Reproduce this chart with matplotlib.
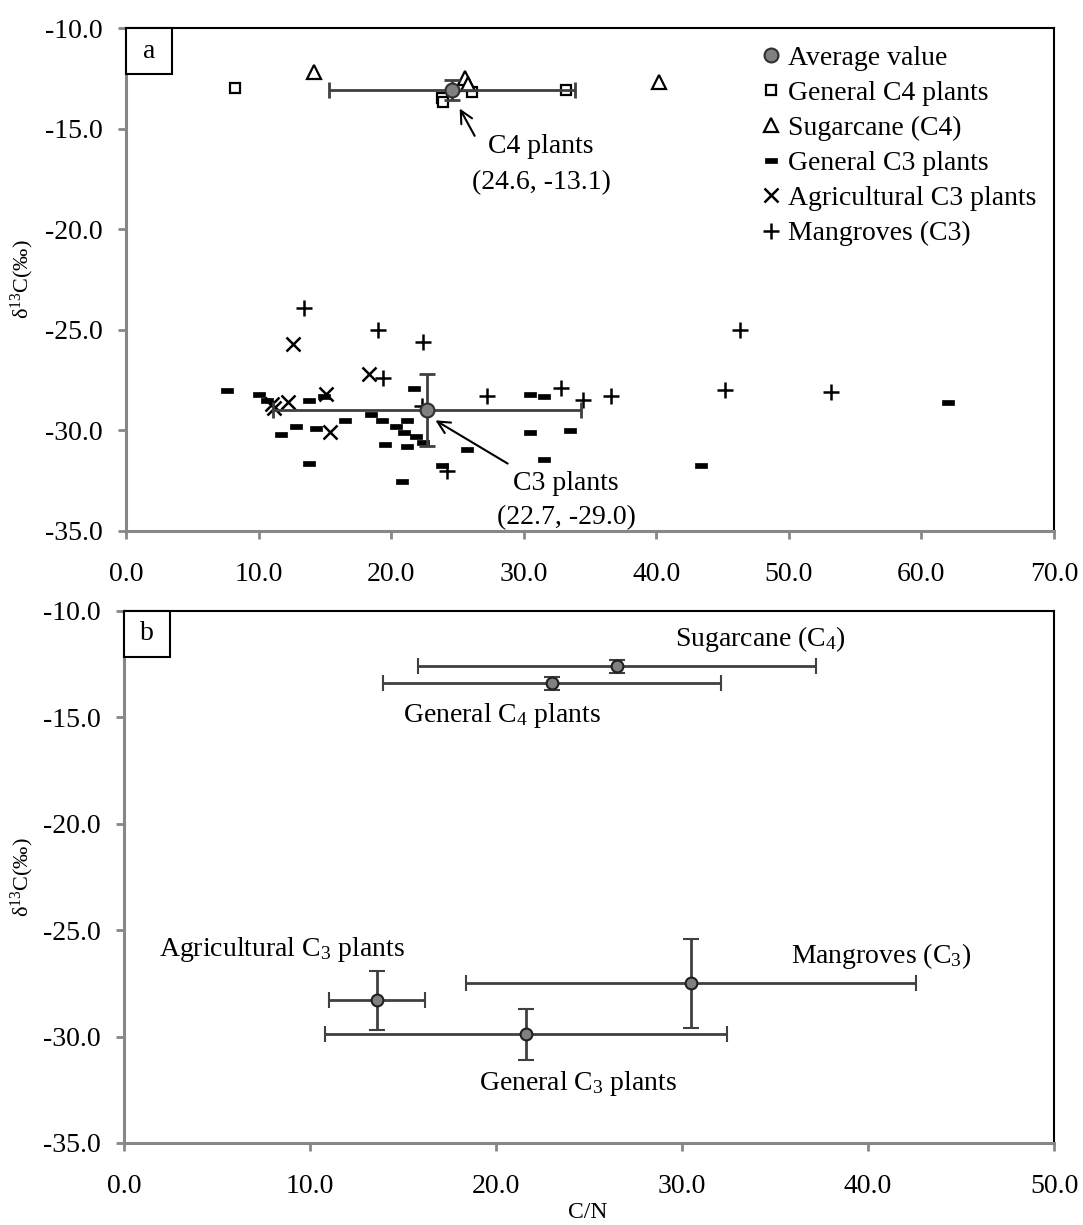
import numpy as np
import matplotlib.pyplot as plt
from matplotlib.patches import Rectangle

plt.rcParams['font.family'] = ['Liberation Serif', 'DejaVu Serif']
plt.rcParams['mathtext.default'] = 'regular'

# ---- panel a: individual samples (C/N, d13C) ----
gen_c4_x = [8.2, 23.8, 23.9, 26.1, 33.2]
gen_c4_y = [-13.0, -13.5, -13.7, -13.2, -13.1]

sugar_x = [14.2, 25.6, 25.8, 40.2]
sugar_y = [-12.2, -12.5, -12.8, -12.7]

gen_c3_x = [7.6, 10.0, 10.6, 13.8, 14.9, 16.5, 18.5, 19.3, 21.2, 20.4, 21.0, 21.9, 22.4, 19.5, 21.2,
            21.7, 12.8, 11.7, 14.3, 13.8, 25.7, 20.8, 23.8, 30.5, 31.5, 30.5, 33.5, 31.5, 43.4, 62.0]
gen_c3_y = [-28.0, -28.2, -28.5, -28.5, -28.3, -29.5, -29.2, -29.5, -29.5, -29.8, -30.1, -30.3, -30.6, -30.7, -30.8,
            -27.9, -29.8, -30.2, -29.9, -31.6, -30.9, -32.5, -31.7, -28.2, -28.3, -30.1, -30.0, -31.4, -31.7, -28.6]

agri_x = [12.6, 18.3, 15.1, 12.2, 11.0, 11.2, 15.4]
agri_y = [-25.7, -27.2, -28.2, -28.6, -28.7, -28.9, -30.1]

mang_x = [13.4, 19.0, 22.4, 19.4, 22.3, 24.2, 27.2, 32.8, 34.5, 36.6, 45.2, 46.3, 53.2]
mang_y = [-23.9, -25.0, -25.6, -27.4, -28.8, -32.0, -28.3, -27.9, -28.5, -28.3, -28.0, -25.0, -28.1]

# averages of C4 and C3 groups with standard deviations
avg_a_x = [24.6, 22.7]
avg_a_y = [-13.1, -29.0]
avg_a_xerr = [9.3, 11.6]
avg_a_yerr = [0.5, 1.8]

# ---- panel b: group means +- sd ----
grp_names = ['Sugarcane (C$_4$)', 'General C$_4$ plants', 'Agricultural C$_3$ plants',
             'Mangroves (C$_3$)', 'General C$_3$ plants']
grp_x = [26.5, 23.0, 13.6, 30.5, 21.6]
grp_y = [-12.6, -13.4, -28.3, -27.5, -29.9]
grp_xerr = [10.7, 9.1, 2.6, 12.1, 10.8]
grp_yerr = [0.3, 0.3, 1.4, 2.1, 1.2]
grp_label_x = [34.2, 20.3, 8.5, 40.7, 24.4]
grp_label_y = [-11.3, -14.9, -25.9, -26.2, -32.2]

W, H = 1083, 1225
fig = plt.figure(figsize=(W / 100, H / 100), dpi=100)
ax_a = fig.add_axes([126 / W, 1 - 531 / H, 928 / W, 503 / H])
ax_b = fig.add_axes([124 / W, 1 - 1143 / H, 930 / W, 532 / H])

grey = '#878787'
bar_col = '#404040'
fs = 20


def style_axes(ax, xmax, tag):
    ax.set_xlim(0, xmax)
    ax.set_ylim(-35, -10)
    xt = np.arange(0, xmax + 1, 10)
    ax.set_xticks(xt)
    ax.set_xticklabels([f'{v:.1f}' for v in xt])
    yt = np.arange(-35, -9, 5)
    ax.set_yticks(yt)
    ax.set_yticklabels([f'{v:.1f}' for v in yt])
    for s in ['left', 'bottom']:
        ax.spines[s].set_color(grey)
        ax.spines[s].set_linewidth(2.2)
    for s in ['top', 'right']:
        ax.spines[s].set_color('black')
        ax.spines[s].set_linewidth(1.5)
    ax.tick_params(direction='out', length=6, width=2, color=grey, labelsize=fs)
    ax.tick_params(axis='x', pad=16)
    ax.tick_params(axis='y', pad=11)
    ax.set_ylabel('δ$^{13}$C(‰)', fontsize=16)
    # panel tag box in the top-left corner
    bb = ax.get_window_extent()
    w, h = 46 / bb.width, 46 / bb.height
    ax.add_patch(Rectangle((0, 1 - h), w, h, transform=ax.transAxes, fc='white', ec='black',
                           lw=1.5, zorder=10, clip_on=False))
    ax.text(w / 2, 1 - h / 2, tag, transform=ax.transAxes, ha='center', va='center',
            fontsize=fs, zorder=11)


style_axes(ax_a, 70, 'a')
style_axes(ax_b, 50, 'b')
ax_a.yaxis.set_label_coords(-0.097, 0.5)
ax_b.yaxis.set_label_coords(-0.095, 0.5)

# panel a samples
dash = [(-1, -0.45), (1, -0.45), (1, 0.45), (-1, 0.45), (-1, -0.45)]
h_sq, = ax_a.plot(gen_c4_x, gen_c4_y, ls='none', marker='s', ms=7.5, mfc='white', mec='black', mew=1.6)
h_tr, = ax_a.plot(sugar_x, sugar_y, ls='none', marker='^', ms=10, mfc='white', mec='black', mew=1.6)
h_da, = ax_a.plot(gen_c3_x, gen_c3_y, ls='none', marker=dash, ms=8, mfc='black', mec='black', mew=0.5)
h_x, = ax_a.plot(agri_x, agri_y, ls='none', marker='x', ms=10, mec='black', mew=1.8)
h_p, = ax_a.plot(mang_x, mang_y, ls='none', marker='+', ms=11, mec='black', mew=1.8)

ax_a.errorbar(avg_a_x, avg_a_y, xerr=avg_a_xerr, yerr=avg_a_yerr, fmt='none', ecolor=bar_col,
              elinewidth=2, capsize=6, capthick=2, zorder=4)
h_avg, = ax_a.plot(avg_a_x, avg_a_y, ls='none', marker='o', ms=10, mfc='#808080', mec='#303030',
                   mew=1.5, zorder=5)

ax_a.legend(handles=[h_avg, h_sq, h_tr, h_da, h_x, h_p],
            labels=['Average value', 'General C4 plants', 'Sugarcane (C4)', 'General C3 plants',
                    'Agricultural C3 plants', 'Mangroves (C3)'],
            loc='upper left', bbox_to_anchor=(0.685, 0.966), frameon=False, fontsize=fs,
            handlelength=0.7, handletextpad=0.25, labelspacing=0.35, borderpad=0, borderaxespad=0)

# annotations
ax_a.annotate('', xy=(25.07, -13.88), xytext=(26.4, -15.48),
              arrowprops=dict(arrowstyle='->', color='black', lw=1.5, mutation_scale=22))
ax_a.text(31.3, -16.8, 'C4 plants\n(24.6, -13.1)', ha='center', va='center', fontsize=fs,
          linespacing=1.6)
ax_a.annotate('', xy=(23.16, -29.43), xytext=(28.97, -31.72),
              arrowprops=dict(arrowstyle='->', color='black', lw=1.5, mutation_scale=22))
ax_a.text(33.2, -33.5, 'C3 plants\n(22.7, -29.0)', ha='center', va='center', fontsize=fs,
          linespacing=1.5)

# panel b
ax_b.errorbar(grp_x, grp_y, xerr=grp_xerr, yerr=grp_yerr, fmt='o', ms=8.5, mfc='#808080',
              mec='#202020', mew=1.5, ecolor=bar_col, elinewidth=2, capsize=6, capthick=1.5)
for name, lx, ly in zip(grp_names, grp_label_x, grp_label_y):
    ax_b.text(lx, ly, name, ha='center', va='center', fontsize=fs)

ax_b.set_xlabel('C/N', fontsize=17)
ax_b.xaxis.set_label_coords(0.499, -0.111)

fig.savefig('out.png', dpi=100)
